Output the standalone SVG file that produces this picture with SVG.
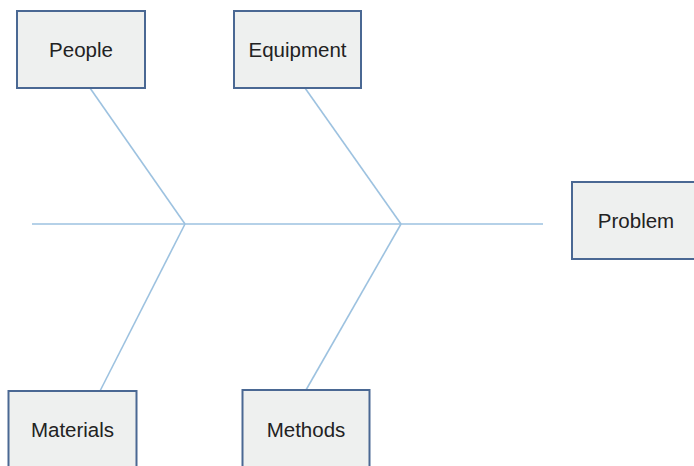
<svg xmlns="http://www.w3.org/2000/svg" width="694" height="466" viewBox="0 0 694 466">
<style>
.box{fill:#eef0ef;stroke:#4a6893;stroke-width:2}
.lbl{font-family:"Liberation Sans",Arial,sans-serif;font-size:20.5px;fill:#222;text-anchor:middle;dominant-baseline:central}
.bone{stroke:#9dc2e0;stroke-width:1.6;fill:none}
</style>
<rect width="694" height="466" fill="#fff"/>
<g id="connectors">
<line class="bone" x1="32" y1="224" x2="543" y2="224"/>
<line class="bone" x1="90" y1="88" x2="185" y2="224"/>
<line class="bone" x1="100" y1="391" x2="185" y2="224"/>
<line class="bone" x1="305" y1="88" x2="401" y2="224"/>
<line class="bone" x1="306" y1="390" x2="401" y2="224"/>
</g>
<g id="people"><rect class="box" x="17" y="11" width="128" height="77"/><text class="lbl" x="81" y="49.5">People</text></g>
<g id="equipment"><rect class="box" x="234" y="11" width="127" height="77"/><text class="lbl" x="297.5" y="49.5">Equipment</text></g>
<g id="problem"><rect class="box" x="572" y="182" width="128" height="77"/><text class="lbl" x="636" y="220.5">Problem</text></g>
<g id="materials"><rect class="box" x="8.5" y="391" width="128" height="77"/><text class="lbl" x="72.5" y="429.5">Materials</text></g>
<g id="methods"><rect class="box" x="242.5" y="390" width="127" height="77"/><text class="lbl" x="306" y="429.5">Methods</text></g>
</svg>
